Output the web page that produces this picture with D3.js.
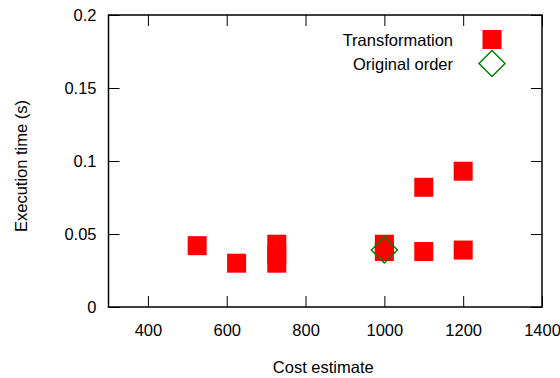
<!DOCTYPE html>
<html>
<head>
<meta charset="utf-8">
<script src="https://cdn.jsdelivr.net/npm/d3@7"></script>
<style>
  body { margin: 0; background: #fff; }
  svg text { font-family: "Liberation Sans", Arial, sans-serif; font-size: 16.5px; fill: #000; }
</style>
</head>
<body>
<div id="chart"></div>
<script>
// Transformation series (cost estimate, execution time in s)
const transCost = [525, 625, 727, 727, 727, 1000, 1000, 1100, 1100, 1200, 1200];
const transTime = [0.042, 0.030, 0.043, 0.036, 0.030, 0.043, 0.038, 0.038, 0.082, 0.039, 0.093];

// Original order series
const origCost = [1000];
const origTime = [0.039];

const xTicks = [400, 600, 800, 1000, 1200, 1400];
const yTicks = [0, 0.05, 0.1, 0.15, 0.2];
const yTickLabels = ['0', '0.05', '0.1', '0.15', '0.2'];

const width = 560, height = 378;
const margin = { top: 15, right: 18, bottom: 71, left: 108.5 };
const innerW = width - margin.left - margin.right;
const innerH = height - margin.top - margin.bottom;

const svg = d3.select('#chart').append('svg')
    .attr('width', width)
    .attr('height', height);

const g = svg.append('g')
    .attr('transform', `translate(${margin.left}, ${margin.top})`);

const x = d3.scaleLinear().domain([300, 1400]).range([0, innerW]);
const y = d3.scaleLinear().domain([0, 0.2]).range([innerH, 0]);

const tickLen = 11;

// axes with inward ticks, mirrored on top/right
g.append('g').attr('transform', `translate(0, ${innerH})`)
    .call(d3.axisBottom(x).tickValues(xTicks).tickFormat(d3.format('d')).tickSizeInner(-tickLen).tickSizeOuter(0).tickPadding(17));
g.append('g')
    .call(d3.axisLeft(y).tickValues(yTicks).tickFormat((d, i) => yTickLabels[i]).tickSizeInner(-tickLen).tickSizeOuter(0).tickPadding(12));
g.append('g')
    .call(d3.axisTop(x).tickValues(xTicks).tickSizeInner(-tickLen).tickSizeOuter(0).tickFormat(''));
g.append('g').attr('transform', `translate(${innerW}, 0)`)
    .call(d3.axisRight(y).tickValues(yTicks).tickSizeInner(-tickLen).tickSizeOuter(0).tickFormat(''));

g.selectAll('.domain').remove();
g.selectAll('.tick line').attr('stroke', '#000').attr('stroke-width', 1);
g.selectAll('.tick text').style('font-size', '16.5px').attr('fill', '#000');

// frame
g.append('rect')
    .attr('width', innerW)
    .attr('height', innerH)
    .attr('fill', 'none')
    .attr('stroke', '#000')
    .attr('stroke-width', 1.5);

const sq = 19;
const dia = 13;
const diamond = (cx, cy) => `M${cx},${cy - dia}L${cx + dia},${cy}L${cx},${cy + dia}L${cx - dia},${cy}Z`;

// transformation points
g.selectAll('.trans')
    .data(transCost.map((c, i) => ({ c, t: transTime[i] })))
    .enter().append('rect')
    .attr('class', 'trans')
    .attr('x', d => x(d.c) - sq / 2)
    .attr('y', d => y(d.t) - sq / 2)
    .attr('width', sq)
    .attr('height', sq)
    .attr('fill', '#ff0000');

// original order points
g.selectAll('.orig')
    .data(origCost.map((c, i) => ({ c, t: origTime[i] })))
    .enter().append('path')
    .attr('class', 'orig')
    .attr('d', d => diamond(x(d.c), y(d.t)))
    .attr('fill', 'none')
    .attr('stroke', '#008000')
    .attr('stroke-width', 1.5);

// legend
const legend = svg.append('g');
legend.append('text').attr('x', 453).attr('y', 45.5).attr('text-anchor', 'end').text('Transformation');
legend.append('rect').attr('x', 492 - sq / 2).attr('y', 39.5 - sq / 2).attr('width', sq).attr('height', sq).attr('fill', '#ff0000');
legend.append('text').attr('x', 453).attr('y', 69.5).attr('text-anchor', 'end').text('Original order');
legend.append('path').attr('d', diamond(492, 63.5)).attr('fill', 'none').attr('stroke', '#008000').attr('stroke-width', 1.5);

// axis titles
svg.append('text')
    .attr('x', margin.left + innerW / 2 - 2)
    .attr('y', 373)
    .attr('text-anchor', 'middle')
    .text('Cost estimate');
svg.append('text')
    .attr('transform', `translate(27, ${margin.top + innerH / 2 + 5}) rotate(-90)`)
    .attr('text-anchor', 'middle')
    .text('Execution time (s)');
</script>
</body>
</html>
